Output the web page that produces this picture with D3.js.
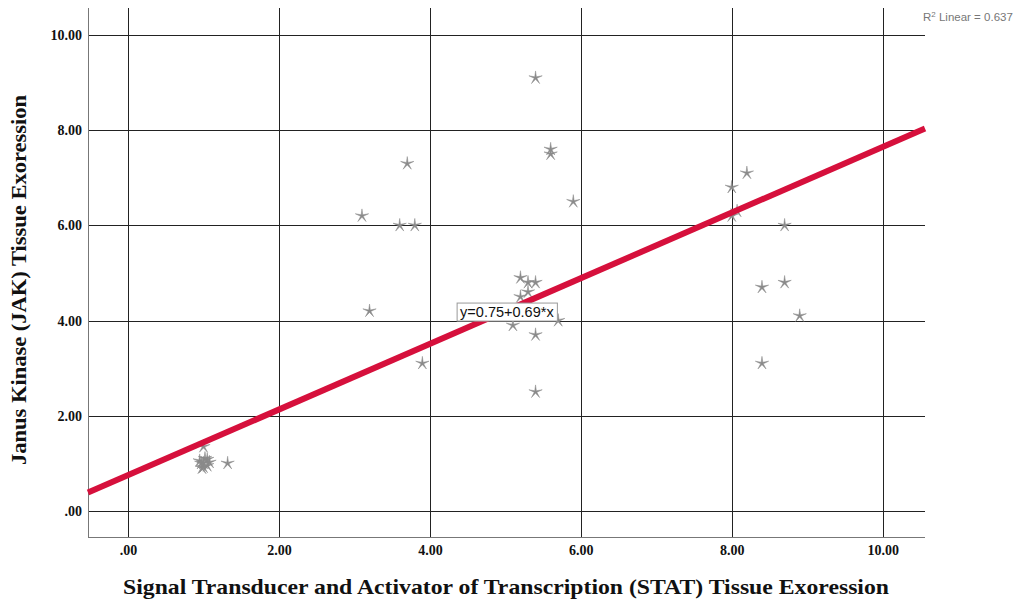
<!DOCTYPE html>
<html><head><meta charset="utf-8">
<script src="https://cdn.jsdelivr.net/npm/d3@7"></script>
<style>body{margin:0;background:#fff;} svg{display:block;}</style>
</head><body>
<svg id="chart" width="1034" height="601"></svg>
<script>
const stat = [1.0,0.95,1.05,1.0,1.05,0.97,1.08,1.02,0.98,1.0,1.32,
  3.1,3.2,3.6,3.8,3.7,3.9,
  5.4,5.6,5.6,5.9,
  5.2,5.3,5.4,5.3,5.2,5.1,5.4,5.7,5.4,
  8.2,8.0,8.07,8.0,8.7,8.4,8.7,8.9,8.4];
const jak = [1.0,1.05,0.95,0.92,1.08,1.0,1.02,1.1,0.9,1.35,1.0,
  6.2,4.2,6.0,6.0,7.3,3.1,
  9.1,7.6,7.5,6.5,
  4.9,4.8,4.8,4.6,4.5,3.9,3.7,4.0,2.5,
  7.1,6.8,6.3,6.2,6.0,4.7,4.8,4.1,3.1];
const fitIntercept = 0.75, fitSlope = 0.69;
const rSquared = "0.637";
const xTicks = [0,2,4,6,8,10];
const yTicks = [0,2,4,6,8,10];
const xLabel = "Signal Transducer and Activator of Transcription (STAT) Tissue Exoression";
const yLabel = "Janus Kinase (JAK) Tissue Exoression";

const svg = d3.select("#chart");
const L = 88, R = 925, T = 8, B = 537;
const x = d3.scaleLinear().domain([-0.53, 10.56]).range([L, R]);
const y = d3.scaleLinear().domain([-0.55, 10.57]).range([B, T]);
const fmt = v => v === 0 ? ".00" : v.toFixed(2);

// gridlines
const g = svg.append("g");
g.selectAll("line.vx").data(xTicks).join("line")
  .attr("x1", d => Math.round(x(d)) + 0.5).attr("x2", d => Math.round(x(d)) + 0.5)
  .attr("y1", T).attr("y2", B).attr("stroke", "#222").attr("stroke-width", 1);
g.selectAll("line.hy").data(yTicks).join("line")
  .attr("y1", d => Math.round(y(d)) + 0.5).attr("y2", d => Math.round(y(d)) + 0.5)
  .attr("x1", L).attr("x2", R).attr("stroke", "#222").attr("stroke-width", 1);
// frame left & bottom
svg.append("line").attr("x1", L + 0.5).attr("x2", L + 0.5).attr("y1", T).attr("y2", B + 0.5)
  .attr("stroke", "#777");
svg.append("line").attr("x1", L).attr("x2", R).attr("y1", B + 0.5).attr("y2", B + 0.5)
  .attr("stroke", "#777");

// axes tick labels
const xAxis = d3.axisBottom(x).tickValues(xTicks).tickFormat(fmt).tickSize(0).tickPadding(8);
const xa = svg.append("g").attr("transform", `translate(0,${B})`).call(xAxis);
xa.select(".domain").remove();
xa.selectAll("text").attr("font-family", "Liberation Serif, Times New Roman, serif")
  .attr("font-weight", "bold").attr("font-size", 14).attr("fill", "#111");
const yAxis = d3.axisLeft(y).tickValues(yTicks).tickFormat(fmt).tickSize(0).tickPadding(6);
const ya = svg.append("g").attr("transform", `translate(${L},0)`).call(yAxis);
ya.select(".domain").remove();
ya.selectAll("text").attr("font-family", "Liberation Serif, Times New Roman, serif")
  .attr("font-weight", "bold").attr("font-size", 14).attr("fill", "#111");

// points (star markers)
const star = d3.symbol().type({
  draw(ctx, size) {
    const ro = Math.sqrt(size), ri = ro * 0.2;
    for (let i = 0; i < 10; i++) {
      const r = i % 2 ? ri : ro;
      const a = -Math.PI / 2 + i * Math.PI / 5;
      i ? ctx.lineTo(r * Math.cos(a), r * Math.sin(a)) : ctx.moveTo(r * Math.cos(a), r * Math.sin(a));
    }
    ctx.closePath();
  }
}).size(49);
svg.append("g").selectAll("path").data(stat.map((s, i) => [s, jak[i]])).join("path")
  .attr("d", star).attr("transform", d => `translate(${x(d[0])},${y(d[1])})`)
  .attr("fill", "#8a8a8a").attr("stroke", "#8a8a8a").attr("stroke-width", 0.5);

// fit line
const xd = x.domain();
svg.append("line")
  .attr("x1", x(xd[0])).attr("y1", y(fitIntercept + fitSlope * xd[0]))
  .attr("x2", x(xd[1])).attr("y2", y(fitIntercept + fitSlope * xd[1]))
  .attr("stroke", "#d6103c").attr("stroke-width", 6);

// equation label
const eq = svg.append("g").attr("transform", `translate(${x(5.02)},${y(4.18)})`);
const eqText = eq.append("text").text(`y=${fitIntercept}+${fitSlope}*x`)
  .attr("text-anchor", "middle").attr("dy", "0.35em")
  .attr("font-family", "Liberation Sans, Arial, sans-serif").attr("font-size", 14.5).attr("fill", "#111");
const bb = eqText.node().getBBox();
eq.insert("rect", "text").attr("x", bb.x - 3).attr("y", bb.y - 1)
  .attr("width", bb.width + 6).attr("height", bb.height + 2)
  .attr("fill", "#fff").attr("stroke", "#999").attr("stroke-width", 1);

// R2 label
const r2 = svg.append("text").attr("x", 923).attr("y", 21)
  .attr("font-family", "Liberation Sans, Arial, sans-serif").attr("font-size", 11.5).attr("fill", "#777");
r2.append("tspan").text("R");
r2.append("tspan").text("2").attr("font-size", 8).attr("dy", -4);
r2.append("tspan").text(" Linear = " + rSquared).attr("dy", 4);

// axis titles
svg.append("text").text(xLabel).attr("x", 506).attr("y", 594).attr("text-anchor", "middle")
  .attr("font-family", "Liberation Serif, Times New Roman, serif").attr("font-weight", "bold")
  .attr("font-size", 21).attr("textLength", 766).attr("lengthAdjust", "spacingAndGlyphs").attr("fill", "#111");
svg.append("text").text(yLabel).attr("transform", "translate(26,280) rotate(-90)").attr("text-anchor", "middle")
  .attr("font-family", "Liberation Serif, Times New Roman, serif").attr("font-weight", "bold")
  .attr("font-size", 21).attr("textLength", 370).attr("lengthAdjust", "spacingAndGlyphs").attr("fill", "#111");
</script>
</body></html>
